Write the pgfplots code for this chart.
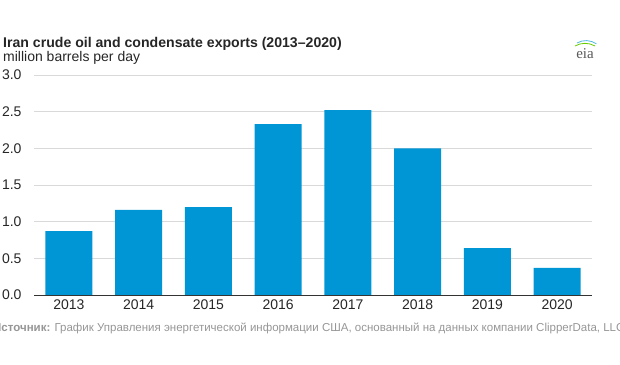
\documentclass[border=0pt]{standalone}
\usepackage{pgfplots}
\pgfplotsset{compat=1.18}
\usepackage{fontspec}
\setmainfont{Liberation Sans}
\newfontfamily\serifeia{Liberation Serif}
\definecolor{eiablue}{RGB}{0,150,214}
\definecolor{gridgrey}{RGB}{217,217,217}
\definecolor{axisdark}{RGB}{51,51,51}
\definecolor{srcgrey}{RGB}{150,150,150}
\begin{document}
\begin{tikzpicture}[x=1pt,y=1pt]
\useasboundingbox (0,0) rectangle (620,364);
\node[anchor=base west, inner sep=0, font=\fontsize{14.1}{16}\selectfont\bfseries, text=black!85] at (3,316) {Iran crude oil and condensate exports (2013–2020)};
\node[anchor=base west, inner sep=0, font=\fontsize{14}{16}\selectfont, text=black!85] at (3,302) {million barrels per day};
\begin{axis}[
  at={(34pt,69pt)}, anchor=south west,
  scale only axis, width=558pt, height=220pt,
  xmin=-0.5, xmax=7.5, ymin=0, ymax=3,
  ytick={0,0.5,...,3},
  xtick={0,...,7},
  xticklabels={2013,2014,2015,2016,2017,2018,2019,2020},
  /pgf/number format/assume math mode=true,
  /pgf/number format/fixed, /pgf/number format/fixed zerofill, /pgf/number format/precision=1,
  ticklabel style={font=\fontsize{14}{16}\selectfont, text=black!85},
  yticklabel style={xshift=-9pt},
  xticklabel style={yshift=-1pt},
  major tick length=0pt,
  axis line style={draw=none},
  ymajorgrids, grid style={gridgrey, line width=0.8pt},
  axis x line*=bottom, axis y line*=left,
  clip=false,
]
\addplot[ybar, bar width=0.675, fill=eiablue, draw=none] coordinates {
(0,0.87) (1,1.16) (2,1.20) (3,2.33) (4,2.52) (5,2.00) (6,0.64) (7,0.37)};
\draw[axisdark, line width=1pt] (axis cs:-0.5,0) -- (axis cs:7.5,0);
\end{axis}
\node[anchor=base west, inner sep=0, font=\fontsize{11.5}{13}\selectfont, text=srcgrey] at (-7,33) {\textbf{Источник:} График Управления энергетической информации США, основанный на данных компании ClipperData, LLC};
\node[anchor=base, inner sep=0, font=\serifeia\fontsize{15}{16}\selectfont, text=black!65] at (585,305) {eia};
\draw[green!50!yellow!80!black, line width=0.8pt] (575,318) arc[start angle=120, end angle=60, radius=20];
\draw[eiablue!70, line width=0.8pt] (577,321) arc[start angle=120, end angle=55, radius=18];
\end{tikzpicture}
\end{document}
